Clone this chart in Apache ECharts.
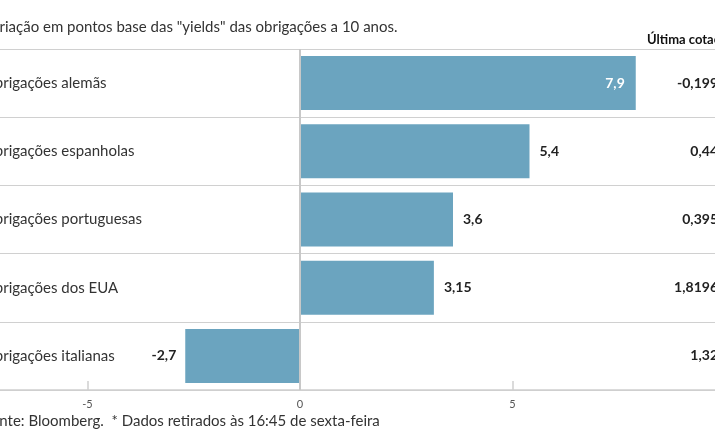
<!DOCTYPE html>
<html>
<head>
<meta charset="utf-8">
<script src="https://cdn.jsdelivr.net/npm/echarts@6/dist/echarts.min.js"></script>
<style>
html,body{margin:0;padding:0;background:#fff;overflow:hidden;width:715px;height:445px;position:relative;}
#c{position:absolute;left:-125px;top:0;width:850px;height:445px;}
</style>
</head>
<body>
<div id="c"></div>
<script>
const categories = ['Obrigações alemãs','Obrigações espanholas','Obrigações portuguesas','Obrigações dos EUA','Obrigações italianas'];
const changes = [7.9, 5.4, 3.6, 3.15, -2.7];
const lastQuotes = ['-0,199','0,44','0,395','1,8196','1,32'];
const xTicks = {min: -10, max: 10, interval: 5};
const titleText = 'Variação em pontos base das "yields" das obrigações a 10 anos.';
const footerText = 'Fonte: Bloomberg.  * Dados retirados às 16:45 de sexta-feira';
const headerText = 'Última cotação*';

const FONT = 'Lato';
const fmt = v => String(v).replace('.', ',');

const barData = changes.map((v, i) => {
  let label;
  if (i === 0) {
    label = {position: 'insideRight', color: '#ffffff', distance: 11};
  } else if (v < 0) {
    label = {position: 'left', color: '#222', distance: 9};
  } else {
    label = {position: 'right', color: '#222', distance: 10};
  }
  return {value: v, label: label};
});

const chart = echarts.init(document.getElementById('c'), null, {renderer: 'canvas'});
chart.setOption({
  animation: false,
  backgroundColor: '#ffffff',
  textStyle: {fontFamily: FONT},
  grid: {left: 0, right: 0, top: 49, height: 341, containLabel: false, outerBoundsMode: 'none'},
  xAxis: {
    type: 'value',
    min: xTicks.min, max: xTicks.max, interval: xTicks.interval,
    axisLine: {show: true, lineStyle: {color: '#cfcfcf', width: 1.5}},
    axisTick: {show: true, inside: true, length: 9, lineStyle: {color: '#cfcfcf', width: 1.5}},
    axisLabel: {color: '#555', fontSize: 11, fontFamily: FONT, margin: 9, formatter: v => String(v)},
    splitLine: {show: false}
  },
  yAxis: [{
    type: 'category',
    data: categories,
    inverse: true,
    position: 'left',
    axisLine: {show: false, onZero: false},
    axisTick: {show: false},
    splitLine: {show: true, lineStyle: {color: '#d0d0d0', width: 1.2}},
    axisLabel: {inside: true, margin: 108, color: '#333', fontSize: 15, fontFamily: FONT, align: 'left'}
  }, {
    type: 'category',
    data: lastQuotes,
    inverse: true,
    position: 'right',
    axisLine: {show: false, onZero: false},
    axisTick: {show: false},
    splitLine: {show: false},
    axisLabel: {inside: true, margin: 7, color: '#222', fontSize: 14, fontWeight: 'bold', fontFamily: FONT}
  }],
  series: [{
    type: 'bar',
    data: barData,
    barWidth: 54,
    itemStyle: {color: '#6ba4bf'},
    label: {show: true, fontSize: 14, fontWeight: 'bold', fontFamily: FONT, formatter: p => fmt(p.value)},
    markLine: {
      silent: true,
      symbol: 'none',
      label: {show: false},
      lineStyle: {color: '#c8c8c8', width: 2, type: 'solid'},
      data: [{xAxis: 0}]
    }
  }],
  graphic: [
    {type: 'text', x: 108, y: 27, style: {text: titleText, fill: '#333', font: '15px ' + FONT, textAlign: 'left', textVerticalAlign: 'middle', align: 'left', verticalAlign: 'middle'}},
    {type: 'text', x: 772, y: 40, style: {text: headerText, fill: '#111', font: 'bold 13px ' + FONT, textAlign: 'left', textVerticalAlign: 'middle', align: 'left', verticalAlign: 'middle'}},
    {type: 'text', x: 108, y: 421, style: {text: footerText, fill: '#333', font: '15px ' + FONT, textAlign: 'left', textVerticalAlign: 'middle', align: 'left', verticalAlign: 'middle'}}
  ]
});
</script>
</body>
</html>
